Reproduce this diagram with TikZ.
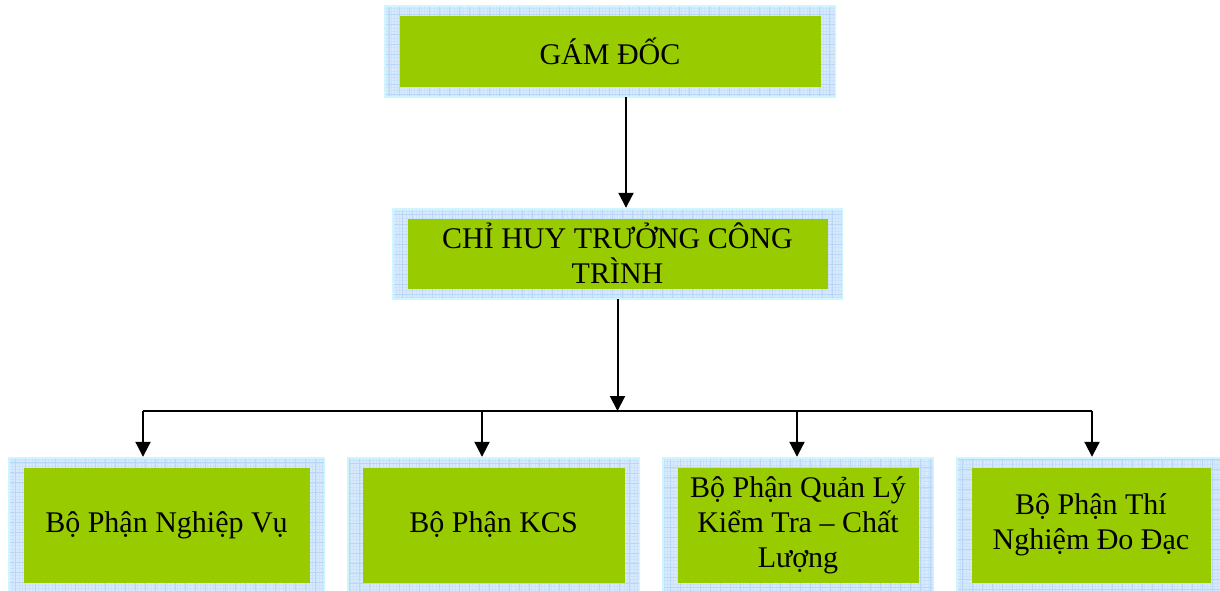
\documentclass[tikz,border=0pt]{standalone}
\usepackage{fontspec}
\setmainfont{Liberation Serif}
\usetikzlibrary{arrows.meta}
\definecolor{boxgreen}{RGB}{153,204,0}
\definecolor{gridbg}{RGB}{216,234,252}
\definecolor{gridline}{RGB}{184,214,248}
\definecolor{gridfine}{RGB}{202,225,250}
\definecolor{rimcol}{RGB}{206,246,255}
\tikzset{
  orgbox/.style n args={2}{
    minimum width=#1, minimum height=#2, inner sep=0pt, align=center,
    font=\fontsize{30}{35}\selectfont,
    path picture={
      \fill[gridbg] (path picture bounding box.south west) rectangle (path picture bounding box.north east);
      \draw[gridfine, line width=0.4pt, step=3.3pt] (path picture bounding box.south west) grid (path picture bounding box.north east);
      \draw[gridline, line width=0.7pt, step=10pt] (path picture bounding box.south west) grid (path picture bounding box.north east);
      \draw[rimcol, line width=3pt] (path picture bounding box.south west) rectangle (path picture bounding box.north east);
      \fill[boxgreen] ([shift={(15.5pt,10.5pt)}]path picture bounding box.south west) rectangle ([shift={(-15.5pt,-10.5pt)}]path picture bounding box.north east);
    }
  },
  conn/.style={line width=2pt, black},
  arr/.style={conn, -{Triangle[length=15pt,width=15pt]}}
}
\begin{document}
\begin{tikzpicture}[x=1pt,y=-1pt]
\useasboundingbox (0,0) rectangle (1220,590);
\node[orgbox={452pt}{92pt}] (gd) at (610,51) {GÁM ĐỐC};
\node[orgbox={451pt}{91pt}] (ch) at (617.5,253.5) {CHỈ HUY TRƯỞNG CÔNG\\TRÌNH};
\node[orgbox={317pt}{136pt}] (b1) at (166.5,525) {Bộ Phận Nghiệp Vụ};
\node[orgbox={293pt}{136pt}] (b2) at (493.5,525) {Bộ Phận KCS};
\node[orgbox={272pt}{136pt}] (b3) at (798,525) {Bộ Phận Quản Lý\\Kiểm Tra – Chất\\Lượng};
\node[orgbox={270pt}{136pt}] (b4) at (1091,525) {Bộ Phận Thí\\Nghiệm Đo Đạc};
\coordinate (ta) at (626,0);
\coordinate (j) at (617.5,411);
\coordinate (h1) at (143,411);
\coordinate (h2) at (482,411);
\coordinate (h3) at (797,411);
\coordinate (h4) at (1092,411);
\draw[arr] (gd.south -| ta) -- (ch.north -| ta);
\draw[arr] (ch.south) -- (j);
\draw[conn] (h1) -- (h4);
\draw[arr] (h1) -- (h1 |- b1.north);
\draw[arr] (h2) -- (h2 |- b2.north);
\draw[arr] (h3) -- (h3 |- b3.north);
\draw[arr] (h4) -- (h4 |- b4.north);
\end{tikzpicture}
\end{document}
